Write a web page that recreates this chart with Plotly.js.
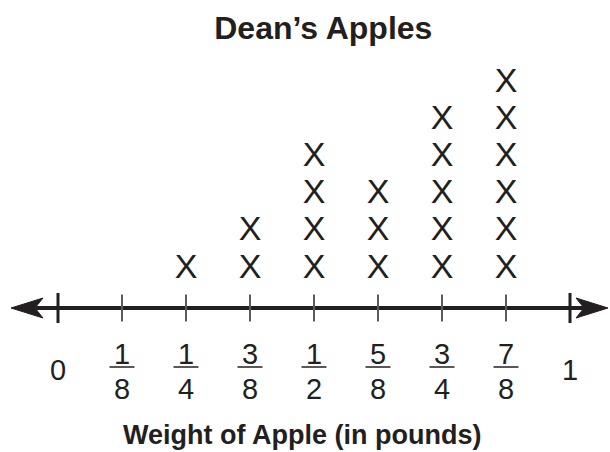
<!DOCTYPE html>
<html><head><meta charset="utf-8">
<script src="https://cdn.plot.ly/plotly-3.0.1.min.js"></script>
<style>html,body{margin:0;padding:0;background:#fff}#c{width:610px;height:452px}</style>
</head><body><div id="c"></div>
<script>
// ---- data ----
const tickValues = [0, 1/8, 1/4, 3/8, 1/2, 5/8, 3/4, 7/8, 1];
const numerators = ['0', '1', '1', '3', '1', '5', '3', '7', '1'];
const denominators = ['', '8', '4', '8', '2', '8', '4', '8', ''];
const counts = [0, 0, 1, 2, 4, 3, 5, 6, 0];
const chartTitle = 'Dean’s Apples';
const axisTitle = 'Weight of Apple (in pounds)';

// ---- layout helpers (pixel -> data) ----
const W = 610, H = 452;
const X0PX = 58, UNITX = 512;          // pixel of 0 and px per pound
const UNITY = 37.2, ROW1PX = 269;       // px per row, pixel of first X
const YMAX = 1 + ROW1PX / UNITY;
const YMIN = YMAX - H / UNITY;
const xd = px => (px - X0PX) / UNITX;
const yd = px => YMAX - px / UNITY;
const dy = px => px / UNITY;

const INK = '#231f20';
const AX = yd(308);
const FONT = 'Liberation Sans, Arial, sans-serif';

// X marks
const xs = [], ys = [];
tickValues.forEach((v, i) => { for (let k = 1; k <= counts[i]; k++) { xs.push(v); ys.push(k); } });

const traces = [{
  type: 'scatter', mode: 'text', x: xs, y: ys, text: xs.map(() => 'X'),
  textposition: 'middle center',
  textfont: {family: FONT, size: 34, color: INK},
  hoverinfo: 'skip', showlegend: false, cliponaxis: false
}];

const shapes = [];
// main line
shapes.push({type: 'line', xref: 'x', yref: 'y', x0: xd(36), x1: xd(592), y0: AX, y1: AX,
  line: {color: INK, width: 4}});
// ticks
tickValues.forEach((v, i) => {
  const end = (i === 0 || i === tickValues.length - 1);
  shapes.push({type: 'line', xref: 'x', yref: 'y', x0: v, x1: v,
    y0: AX - dy(end ? 15 : 13.5), y1: AX + dy(end ? 15 : 13.5),
    line: {color: end ? INK : '#5a5a5a', width: end ? 3 : 2}});
});
// arrowheads
function arrow(tipPx, dir) {
  const bx = tipPx + dir * 32, nx = tipPx + dir * 24;
  const p = [[tipPx, 308], [bx, 298], [nx, 308], [bx, 318]];
  return 'M ' + p.map(q => xd(q[0]) + ',' + yd(q[1])).join(' L ') + ' Z';
}
shapes.push({type: 'path', xref: 'x', yref: 'y', path: arrow(11, 1), fillcolor: INK, line: {color: INK, width: 1}});
shapes.push({type: 'path', xref: 'x', yref: 'y', path: arrow(608, -1), fillcolor: INK, line: {color: INK, width: 1}});

const annotations = [];
const numFont = {family: FONT, size: 29, color: INK};
tickValues.forEach((v, i) => {
  if (denominators[i] === '') {
    annotations.push({xref: 'x', yref: 'y', x: v, y: yd(370), text: numerators[i], showarrow: false,
      font: numFont, xanchor: 'center', yanchor: 'middle'});
  } else {
    annotations.push({xref: 'x', yref: 'y', x: v, y: yd(354), text: numerators[i], showarrow: false,
      font: numFont, xanchor: 'center', yanchor: 'middle'});
    annotations.push({xref: 'x', yref: 'y', x: v, y: yd(389), text: denominators[i], showarrow: false,
      font: numFont, xanchor: 'center', yanchor: 'middle'});
    shapes.push({type: 'line', xref: 'x', yref: 'y', x0: v - 12.5 / UNITX, x1: v + 12.5 / UNITX,
      y0: yd(367), y1: yd(367), line: {color: INK, width: 1.5}});
  }
});
annotations.push({xref: 'paper', yref: 'paper', x: 0.495, y: 1 - 435 / H, text: '<b>' + axisTitle + '</b>',
  showarrow: false, xanchor: 'center', yanchor: 'middle',
  font: {family: FONT, size: 27, color: INK}});

const layout = {
  width: W, height: H,
  margin: {l: 0, r: 0, t: 0, b: 0},
  paper_bgcolor: '#fff', plot_bgcolor: '#fff',
  title: {text: '<b>' + chartTitle + '</b>', x: 0.53, xanchor: 'center', y: 1 - 28 / H, yanchor: 'middle',
    font: {family: FONT, size: 32, color: INK}},
  xaxis: {range: [xd(0), xd(W)], visible: false, fixedrange: true},
  yaxis: {range: [YMIN, YMAX], visible: false, fixedrange: true},
  shapes: shapes, annotations: annotations, showlegend: false
};
Plotly.newPlot('c', traces, layout, {staticPlot: true, displayModeBar: false});
</script></body></html>
